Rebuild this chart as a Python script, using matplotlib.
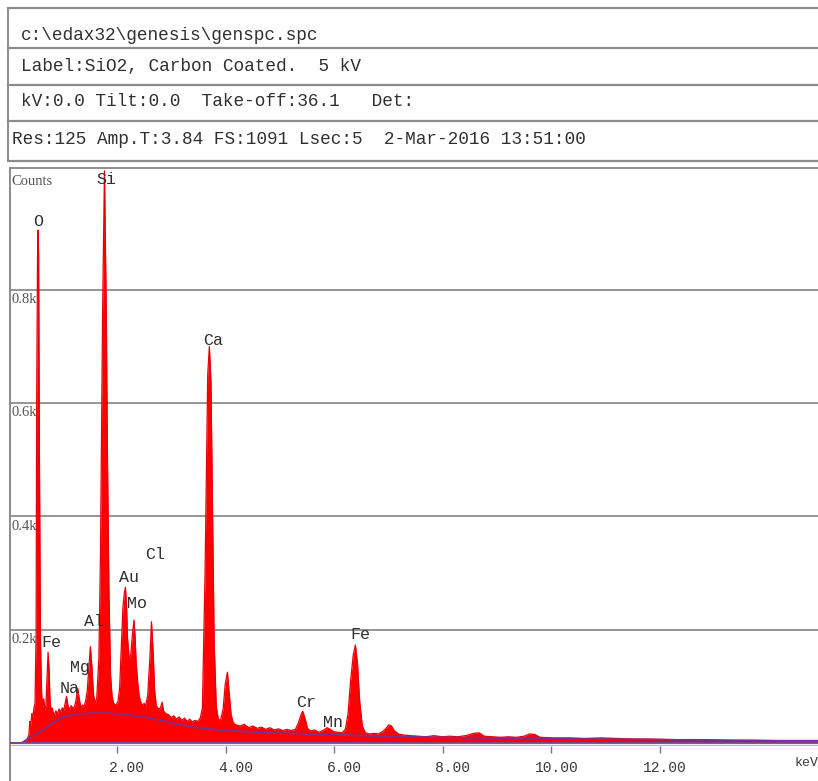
import matplotlib
matplotlib.use("Agg")
import matplotlib.pyplot as plt
from matplotlib.lines import Line2D
import matplotlib.transforms as mtransforms

W, H = 818, 781

# ── header text ──────────────────────────────────────────────────────────────
header_rows = [
    "c:\\edax32\\genesis\\genspc.spc",
    "Label:SiO2, Carbon Coated.  5 kV",
    "kV:0.0 Tilt:0.0  Take-off:36.1   Det:",
    "Res:125 Amp.T:3.84 FS:1091 Lsec:5  2-Mar-2016 13:51:00",
]

# ── spectrum outline (keV, counts) ──────────────────────────────────────────
spectrum_kev = [
    0.00, 0.27, 0.33, 0.365, 0.385, 0.40, 0.42, 0.44, 0.46, 0.48, 0.50, 0.51,
    0.526, 0.536, 0.546, 0.56, 0.58, 0.60, 0.62, 0.64, 0.66, 0.68, 0.70, 0.72,
    0.737, 0.756, 0.776, 0.795, 0.815, 0.835, 0.864, 0.893, 0.923, 0.952, 0.981, 1.011,
    1.03, 1.06, 1.09, 1.12, 1.148, 1.177, 1.207, 1.236, 1.265, 1.295, 1.324, 1.353,
    1.383, 1.412, 1.442, 1.471, 1.50, 1.53, 1.559, 1.588, 1.618, 1.657, 1.686, 1.706,
    1.725, 1.745, 1.76, 1.774, 1.794, 1.813, 1.843, 1.872, 1.90, 1.93, 1.97, 2.01,
    2.04, 2.07, 2.10, 2.127, 2.146, 2.166, 2.185, 2.215, 2.244, 2.274, 2.303, 2.322,
    2.342, 2.371, 2.401, 2.43, 2.46, 2.489, 2.518, 2.557, 2.597, 2.626, 2.655, 2.685,
    2.714, 2.753, 2.792, 2.822, 2.851, 2.89, 2.939, 2.988, 3.037, 3.086, 3.135, 3.184,
    3.233, 3.282, 3.33, 3.38, 3.428, 3.477, 3.526, 3.565, 3.614, 3.644, 3.663, 3.693,
    3.722, 3.751, 3.781, 3.82, 3.859, 3.898, 3.947, 3.986, 4.026, 4.055, 4.094, 4.133,
    4.182, 4.26, 4.339, 4.417, 4.495, 4.574, 4.652, 4.73, 4.809, 4.887, 4.965, 5.044,
    5.122, 5.20, 5.279, 5.337, 5.386, 5.415, 5.455, 5.503, 5.562, 5.631, 5.709, 5.787,
    5.866, 5.925, 5.983, 6.062, 6.14, 6.199, 6.248, 6.297, 6.345, 6.385, 6.424, 6.463,
    6.512, 6.57, 6.649, 6.727, 6.805, 6.884, 6.952, 7.001, 7.05, 7.099, 7.177, 7.275,
    7.393, 7.539, 7.686, 7.833, 7.98, 8.127, 8.273, 8.42, 8.567, 8.665, 8.763, 8.91,
    9.057, 9.203, 9.35, 9.497, 9.595, 9.693, 9.791, 10.035, 10.329, 10.623, 10.916, 11.21,
    11.504, 11.797, 12.287, 12.776, 13.266, 13.755, 14.245, 15.0,
]
spectrum_counts = [
    0, 0, 6, 14, 38, 30, 52, 45, 62, 70, 200, 600,
    860, 905, 860, 520, 180, 90, 62, 78, 58, 66, 115, 160,
    135, 75, 56, 62, 54, 48, 57, 50, 60, 55, 62, 58,
    68, 82, 64, 60, 66, 61, 64, 76, 97, 78, 63, 67,
    64, 74, 92, 130, 170, 132, 84, 70, 80, 150, 330, 560,
    760, 900, 1010, 900, 760, 520, 260, 120, 82, 70, 66, 74,
    98, 170, 240, 265, 275, 245, 185, 148, 155, 190, 217, 192,
    145, 108, 82, 72, 66, 70, 66, 84, 150, 214, 165, 92,
    66, 60, 62, 72, 56, 52, 50, 45, 48, 42, 46, 40,
    44, 38, 42, 37, 40, 38, 44, 62, 300, 520, 650, 700,
    640, 420, 180, 65, 42, 40, 60, 104, 125, 92, 50, 36,
    32, 30, 33, 27, 30, 26, 28, 24, 27, 23, 25, 22,
    24, 22, 24, 36, 51, 56, 44, 26, 21, 23, 19, 22,
    27, 24, 20, 19, 18, 24, 50, 110, 155, 173, 140, 75,
    30, 18, 16, 17, 16, 20, 26, 32, 30, 22, 16, 14,
    13, 12, 11, 13, 11, 12, 11, 13, 17, 18, 12, 11,
    10, 11, 10, 12, 16, 15, 10, 9, 9, 8, 9, 8,
    7, 7, 6, 6, 5, 5, 4, 4,
]

# bremsstrahlung background fit (purple curve)
bg_kev = [0.0, 0.228, 0.296, 0.394, 0.492, 0.629, 0.786, 0.991, 1.255, 1.52, 1.804,
          2.107, 2.469, 2.792, 3.154, 3.477, 3.967, 4.809, 5.435, 6.16, 6.903, 7.882,
          8.861, 9.84, 10.818, 11.797, 12.776, 13.755, 15.0]
bg_counts = [0, 0, 4, 10, 16, 23, 34, 46, 51, 53, 53,
             50, 46, 40, 32, 27, 22, 18, 16, 14, 12, 10,
             9, 8, 7, 6, 5, 4, 4]

# element labels (text, keV, counts)
elem_names = ["O", "Si", "Ca", "Cl", "Au", "Mo", "Al", "Fe", "Mg", "Na", "Cr", "Mn", "Fe"]
elem_kev = [0.535, 1.79, 3.76, 2.69, 2.21, 2.36, 1.57, 0.79, 1.31, 1.12, 5.47, 5.97, 6.47]
elem_counts = [920, 994, 711, 332, 293, 247, 214, 177, 134, 97, 72, 37, 191]

x_ticks = [2.0, 4.0, 6.0, 8.0, 10.0, 12.0]
x_labels = ["2.00", "4.00", "6.00", "8.00", "10.00", "12.00"]
y_grid = [200, 400, 600, 800]
y_labels = ["0.2k", "0.4k", "0.6k", "0.8k"]

MONO = "Liberation Mono"
SERIF = "Liberation Serif"
GRID = "#8c8c8c"
INK = "#303030"


def fx(px):
    return px / W


def fy(py):
    return 1 - py / H


fig = plt.figure(figsize=(W / 100, H / 100), dpi=100, facecolor="white")

# ── header box ───────────────────────────────────────────────────────────────
for py in (8, 48, 85, 121, 161):
    fig.add_artist(Line2D([fx(8), 1], [fy(py), fy(py)], color=GRID, lw=1.6,
                          transform=fig.transFigure))
fig.add_artist(Line2D([fx(8), fx(8)], [fy(8), fy(161)], color=GRID, lw=1.4,
                      transform=fig.transFigure))
for text, px, py in zip(header_rows, (21, 21, 21, 12), (35, 67, 102, 140)):
    fig.text(fx(px), fy(py), text, family=MONO, fontsize=12.8, color=INK,
             va="center", ha="left")

# ── spectrum axes ────────────────────────────────────────────────────────────
ax_top, ax_bot = 169, 746
ax = fig.add_axes([fx(10), fy(ax_bot), fx(818) - fx(10), fy(ax_top) - fy(ax_bot)])
px_per_kev = 54.25
x0 = 9.0    # pixel of 0 keV
ax.set_xlim((10 - x0) / px_per_kev, (818 - x0) / px_per_kev)
px_per_count = 566.5 / 1000
ax.set_ylim(-(ax_bot - 743) / px_per_count, (743 - ax_top) / px_per_count)

for v, lab in zip(y_grid, y_labels):
    ax.axhline(v, color=GRID, lw=1.3, zorder=1)
    ax.text(0.04, v - 6, lab, family=SERIF, fontsize=10.5, color="#555555",
            va="top", ha="left", zorder=5)
ax.text(0.04, 1003, "Counts", family=SERIF, fontsize=10.5, color="#555555",
        va="top", ha="left")

ax.fill_between(spectrum_kev, spectrum_counts, 0, color="#ff0000", lw=0, zorder=2)
ax.plot(spectrum_kev, spectrum_counts, color="#e8000a", lw=0.9, zorder=2)
ax.plot(bg_kev, bg_counts, color="#7b2f8e", lw=1.3, zorder=3)
ax.axhline(0, color="#6a4fa0", lw=1.2, zorder=3)
ax.axhline(-4, color="#d9b27a", lw=1.0, zorder=3)

for name, e, c in zip(elem_names, elem_kev, elem_counts):
    ax.text(e, c, name, family=MONO, fontsize=12, color=INK,
            ha="center", va="center", zorder=6)

for side in ("top", "right", "bottom"):
    ax.spines[side].set_visible(False)
ax.spines["left"].set_color(GRID)
ax.spines["left"].set_linewidth(1.4)
ax.set_yticks([])
ax.set_xticks(x_ticks)
ax.set_xticklabels(x_labels, family=MONO, fontsize=10.5, color="#3a3a3a", ha="right")
ax.tick_params(axis="x", length=5, width=1.0, color="#777777", pad=6)
shift = mtransforms.ScaledTranslation(27 / 100, 0, fig.dpi_scale_trans)
for lab in ax.get_xticklabels():
    lab.set_transform(lab.get_transform() + shift)
ax.text((794 - x0) / px_per_kev, -(763 - 743) / px_per_count, "keV",
        family=MONO, fontsize=9.5, color="#3a3a3a", ha="left", va="center",
        clip_on=False)

# frame line continuing below the axes
fig.add_artist(Line2D([fx(10), fx(10)], [fy(ax_bot), 0], color=GRID, lw=1.4,
                      transform=fig.transFigure))
fig.add_artist(Line2D([fx(10), 1], [fy(ax_top - 1), fy(ax_top - 1)], color=GRID,
                      lw=1.4, transform=fig.transFigure))

fig.savefig("out.png", dpi=100, facecolor="white")
